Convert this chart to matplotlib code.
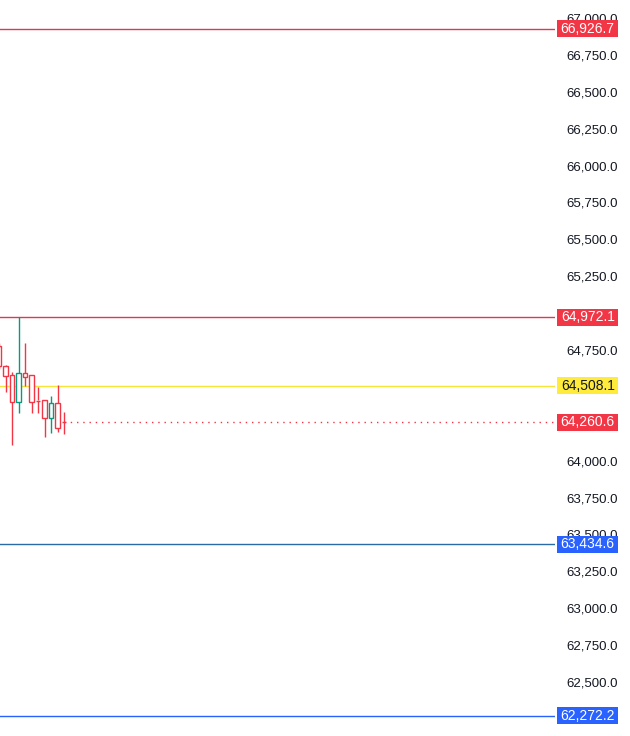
import matplotlib.pyplot as plt
from matplotlib.patches import Rectangle
from matplotlib.transforms import blended_transform_factory

# candle data (open, high, low, close)
opens = [64778, 64642, 64581, 64398, 64595, 64581, 64410, 64408, 64290, 64392, 64265]
highs = [64800, 64649, 64602, 64972, 64798, 64581, 64500, 64408, 64439, 64514, 64331]
lows = [64620, 64466, 64107, 64324, 64507, 64324, 64324, 64161, 64188, 64195, 64182]
closes = [64642, 64575, 64398, 64595, 64568, 64398, 64405, 64290, 64392, 64222, 64260.6]

# horizontal levels and their colours (line, label box, label text)
levels = [66926.7, 64972.1, 64508.1, 63434.6, 62272.2]
line_colors = ['#e0384f', '#e0384f', '#f7e43a', '#2a6aa8', '#2962ff']
box_colors = ['#f23645', '#f23645', '#ffeb3b', '#2962ff', '#2962ff']
text_colors = ['white', 'white', '#131722', 'white', 'white']
last_price = 64260.6

yticks = [62500 + 250 * i for i in range(19)]

up_color = '#089981'
down_color = '#f23645'

plt.rcParams['font.family'] = ['Liberation Sans', 'DejaVu Sans']

fig = plt.figure(figsize=(6.3, 7.36), dpi=100)
ax = fig.add_axes([0, 0, 555 / 630, 1])

body_w = 0.72
for i, (o, h, l, c) in enumerate(zip(opens, highs, lows, closes)):
    col = up_color if c > o else down_color
    top, bot = max(o, c), min(o, c)
    ax.vlines(i, top, h, color=col, linewidth=1, zorder=3)
    ax.vlines(i, l, bot, color=col, linewidth=1, zorder=3)
    if top - bot < 15:
        ax.hlines(c, i - body_w / 2, i + body_w / 2, color=col, linewidth=1, zorder=3)
    else:
        ax.add_patch(Rectangle((i - body_w / 2, bot), body_w, top - bot,
                               facecolor='white', edgecolor=col, linewidth=1, zorder=3))

for lv, lc in zip(levels, line_colors):
    ax.axhline(lv, color=lc, linewidth=1, zorder=2)

ax.plot([len(closes) - 1, 200], [last_price, last_price], color=down_color,
        linewidth=1, linestyle=(0, (1, 3.5)), zorder=2)

# x range so that candles sit at the left edge
step = 6.5
ax.set_xlim((1 / step), (1 / step) + 555 / step)
ax.set_ylim(62134, 67122)

ax.yaxis.tick_right()
ax.set_yticks(yticks)
ax.set_yticklabels([f'{v:,.1f}' for v in yticks], fontsize=9.5, color='#131722')
ax.tick_params(axis='y', length=0, pad=8)
ax.set_xticks([])
for s in ax.spines.values():
    s.set_visible(False)

# price label boxes on the axis
tr = blended_transform_factory(ax.transAxes, ax.transData)
box_h = 115
box_w = 61 / 555
all_levels = levels + [last_price]
all_boxes = box_colors + [down_color]
all_texts = text_colors + ['white']
for lv, bc, tc in zip(all_levels, all_boxes, all_texts):
    ax.add_patch(Rectangle((1.004, lv - box_h / 2), box_w, box_h, transform=tr,
                           facecolor=bc, edgecolor='none', clip_on=False, zorder=5))
    ax.text(1.004 + box_w / 2, lv, f'{lv:,.1f}', transform=tr, ha='center', va='center',
            fontsize=10, color=tc, zorder=6, clip_on=False)

fig.savefig('out.png', dpi=100)
